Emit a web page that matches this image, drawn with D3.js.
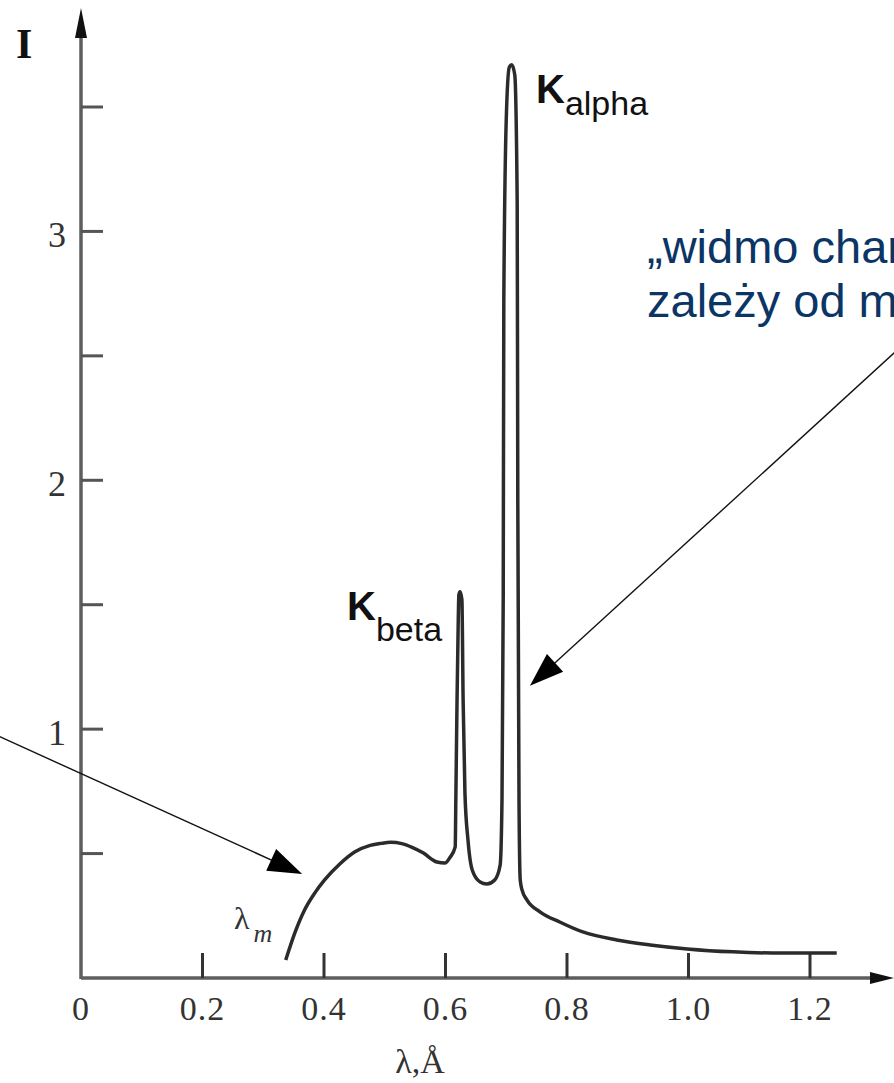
<!DOCTYPE html>
<html><head><meta charset="utf-8">
<script src="https://cdn.jsdelivr.net/npm/d3@7"></script>
<style>
html,body{margin:0;padding:0;background:#fff;overflow:hidden;}
svg{display:block;}
</style>
</head><body>
<svg id="c" width="894" height="1083"></svg>
<script>
// ---- data ----
const lambda = [0.337,0.352,0.368,0.385,0.401,0.426,0.451,0.476,0.494,0.510,0.528,0.545,0.563,0.586,0.599,0.607,0.616,0.617,0.619,0.621,0.622,0.624,0.627,0.629,0.632,0.637,0.644,0.657,0.668,0.681,0.690,0.693,0.695,0.696,0.700,0.705,0.709,0.714,0.718,0.719,0.721,0.723,0.726,0.734,0.756,0.788,0.826,0.882,0.937,0.998,1.073,1.156,1.244];
const intensity = [0.072,0.181,0.273,0.342,0.394,0.458,0.507,0.533,0.541,0.545,0.540,0.525,0.503,0.466,0.462,0.483,0.527,0.716,1.118,1.44,1.54,1.552,1.52,1.118,0.744,0.555,0.434,0.386,0.378,0.394,0.454,0.716,1.52,2.726,3.45,3.66,3.67,3.63,3.12,1.92,0.716,0.394,0.354,0.314,0.265,0.225,0.185,0.153,0.133,0.117,0.105,0.100,0.100];
const xTickValues = [0.2,0.4,0.6,0.8,1.0,1.2];
const xTickLabels = ["0","0.2","0.4","0.6","0.8","1.0","1.2"];
const xLabelValues = [0,0.2,0.4,0.6,0.8,1.0,1.2];
const yTickValues = [0.5,1,1.5,2,2.5,3,3.5];
const yLabelValues = [1,2,3];
const yTickLabels = ["1","2","3"];

const svg = d3.select("#c");
const x = d3.scaleLinear().domain([0,1.2]).range([81,810]);
const y = d3.scaleLinear().domain([0,3.5]).range([978,107]);
const axisColor = "#5e5e5e";

// axes lines
svg.append("line").attr("x1",x(0)).attr("y1",y(0)).attr("x2",876).attr("y2",y(0))
  .attr("stroke",axisColor).attr("stroke-width",3.5);
svg.append("line").attr("x1",x(0)).attr("y1",y(0)+1).attr("x2",x(0)).attr("y2",30)
  .attr("stroke",axisColor).attr("stroke-width",3.5);
// arrowheads on axes
svg.append("path").attr("d",`M${x(0)},8 L${x(0)-6},38 L${x(0)+6},38 Z`).attr("fill","#111");
svg.append("path").attr("d",`M894,${y(0)} L870,${y(0)-6} L870,${y(0)+6} Z`).attr("fill","#111");

// ticks
svg.selectAll(".xt").data(xTickValues).enter().append("line")
  .attr("x1",d=>x(d)).attr("x2",d=>x(d)).attr("y1",y(0)).attr("y2",y(0)-25)
  .attr("stroke","#333").attr("stroke-width",3);
svg.selectAll(".yt").data(yTickValues).enter().append("line")
  .attr("x1",x(0)).attr("x2",x(0)+22).attr("y1",d=>y(d)).attr("y2",d=>y(d))
  .attr("stroke","#555").attr("stroke-width",3);

// tick labels
const serif = "'Liberation Serif','Times New Roman',serif";
svg.selectAll(".xl").data(xLabelValues).enter().append("text")
  .attr("x",d=>x(d)).attr("y",1020).attr("text-anchor","middle")
  .attr("font-family",serif).attr("font-size",34).attr("fill","#333")
  .attr("letter-spacing",1)
  .text((d,i)=>xTickLabels[i]);
svg.selectAll(".yl").data(yLabelValues).enter().append("text")
  .attr("x",66).attr("y",d=>y(d)+16).attr("text-anchor","end")
  .attr("font-family",serif).attr("font-size",36).attr("fill","#333")
  .text((d,i)=>yTickLabels[i]);

// axis titles
svg.append("text").attr("x",16).attr("y",58).attr("font-family",serif)
  .attr("font-weight","bold").attr("font-size",42).attr("fill","#111").text("I");
svg.append("text").attr("x",420).attr("y",1073).attr("text-anchor","middle")
  .attr("font-family",serif).attr("font-size",34).attr("fill","#333").text("λ,Å");

// spectrum curve
const pts = lambda.map((l,i)=>[l,intensity[i]]);
const line = d3.line().x(d=>x(d[0])).y(d=>y(d[1])).curve(d3.curveMonotoneX);
svg.append("path").datum(pts).attr("d",line).attr("fill","none")
  .attr("stroke","#2b2b2b").attr("stroke-width",3.5).attr("stroke-linejoin","round");

// labels on curve
const sans = "'Liberation Sans',Arial,sans-serif";
function kLabel(px,py,sub,subDy){
  const t = svg.append("text").attr("x",px).attr("y",py).attr("font-family",sans).attr("fill","#111");
  t.append("tspan").attr("font-size",40).attr("font-weight","bold").text("K");
  t.append("tspan").attr("font-size",34).attr("dy",subDy).text(sub);
}
kLabel(536,103,"alpha",12);
kLabel(347,620,"beta",21);

const lm = svg.append("text").attr("x",234).attr("y",929).attr("font-family",serif).attr("fill","#333");
lm.append("tspan").attr("font-size",32).text("λ");
lm.append("tspan").attr("font-size",26).attr("font-style","italic").attr("dx",4).attr("dy",13).text("m");

// annotation arrows
function arrow(x0,y0,x1,y1){
  const X0=x(x0),Y0=y(y0),X1=x(x1),Y1=y(y1);
  const dx=X1-X0, dy=Y1-Y0, L=Math.hypot(dx,dy), ux=dx/L, uy=dy/L;
  const len=34, hw=12;
  const bx=X1-ux*len, by=Y1-uy*len;
  svg.append("line").attr("x1",X0).attr("y1",Y0).attr("x2",bx+ux*4).attr("y2",by+uy*4)
    .attr("stroke","#111").attr("stroke-width",1.4);
  svg.append("path").attr("d",`M${X1},${Y1} L${bx-uy*hw},${by+ux*hw} L${bx+uy*hw},${by-ux*hw} Z`).attr("fill","#000");
}
arrow(-0.134,0.970,0.364,0.418);
arrow(1.36,2.56,0.739,1.174);

// blue annotation text (cut by the page edge, as in the reference)
const blue = "#0b3565";
svg.append("text").attr("x",647).attr("y",263).attr("font-family",sans).attr("font-size",47)
  .attr("fill",blue).text("„widmo char");
svg.append("text").attr("x",647).attr("y",317).attr("font-family",sans).attr("font-size",47)
  .attr("fill",blue).text("zależy od m");
</script>
</body></html>
